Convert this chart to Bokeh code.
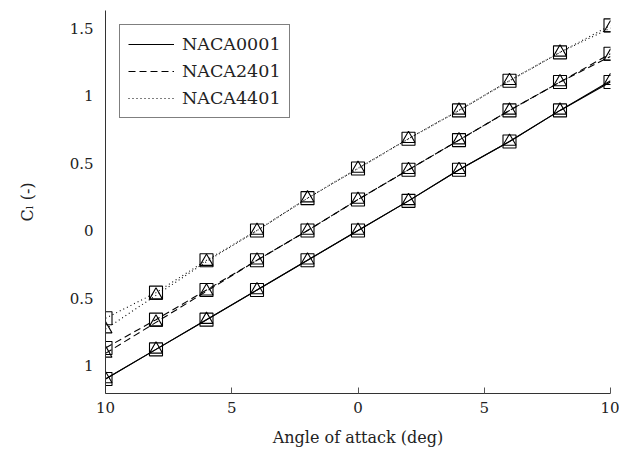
from bokeh.plotting import figure
from bokeh.models import Range1d, FixedTicker, Legend, LegendItem
from bokeh.embed import file_html
from bokeh.resources import INLINE

# Data (angle of attack in deg, lift coefficient)
alpha = [-10, -8, -6, -4, -2, 0, 2, 4, 6, 8, 10]

naca0001_sq = [-1.10, -0.88, -0.66, -0.44, -0.22, 0.00, 0.22, 0.45, 0.66, 0.89, 1.10]
naca0001_tri = [-1.10, -0.88, -0.66, -0.44, -0.22, 0.00, 0.22, 0.45, 0.66, 0.89, 1.11]
naca2401_sq = [-0.87, -0.66, -0.44, -0.22, 0.00, 0.23, 0.45, 0.67, 0.89, 1.10, 1.31]
naca2401_tri = [-0.91, -0.68, -0.45, -0.22, 0.00, 0.23, 0.45, 0.67, 0.89, 1.10, 1.29]
naca4401_sq = [-0.65, -0.46, -0.22, 0.00, 0.24, 0.46, 0.68, 0.89, 1.11, 1.32, 1.52]
naca4401_tri = [-0.73, -0.48, -0.23, 0.00, 0.24, 0.46, 0.68, 0.89, 1.11, 1.32, 1.50]

series_names = ["NACA0001", "NACA2401", "NACA4401"]
series_sq = [naca0001_sq, naca2401_sq, naca4401_sq]
series_tri = [naca0001_tri, naca2401_tri, naca4401_tri]
dashes = ["solid", "7 4", "1 3"]

x_ticks = [-10, -5, 0, 5, 10]
x_tick_labels = ["10", "5", "0", "5", "10"]
y_ticks = [-1, -0.5, 0, 0.5, 1, 1.5]
y_tick_labels = ["1", "0.5", "0", "0.5", "1", "1.5"]

FONT = "DejaVu Serif"

p = figure(width=619, height=453, output_backend="svg", toolbar_location=None,
           x_range=Range1d(-10, 10), y_range=Range1d(-1.207, 1.63),
           min_border_left=105, min_border_right=9, min_border_top=10, min_border_bottom=60)
p.outline_line_color = None
p.grid.grid_line_color = None
p.background_fill_color = "white"
p.border_fill_color = "white"

legend_items = []
for name, ysq, ytri, dash in zip(series_names, series_sq, series_tri, dashes):
    r = p.line(alpha, ysq, line_color="black", line_width=1.1, line_dash=dash)
    p.line(alpha, ytri, line_color="black", line_width=1.1, line_dash=dash)
    p.scatter(alpha, ysq, marker="square", size=13, fill_color=None, line_color="black", line_width=1.1)
    p.scatter(alpha, ytri, marker="triangle", size=13, fill_color=None, line_color="black", line_width=1.1)
    legend_items.append(LegendItem(label=name, renderers=[r]))

legend = Legend(items=legend_items, location="top_left")
legend.margin = 14
legend.border_line_color = "black"
legend.border_line_width = 1
legend.label_text_font = FONT
legend.label_text_font_size = "17.5px"
legend.label_text_color = "#222222"
legend.glyph_width = 46
legend.glyph_height = 22
legend.label_height = 22
legend.spacing = 5
legend.padding = 8
legend.label_standoff = 8
legend.background_fill_alpha = 1
p.add_layout(legend)

xa = p.xaxis[0]
xa.ticker = FixedTicker(ticks=x_ticks)
xa.major_label_overrides = {t: l for t, l in zip(x_ticks, x_tick_labels)}
xa.minor_tick_line_color = None
xa.major_tick_out = 0
xa.major_tick_in = 6
xa.axis_line_color = "#333333"
xa.major_tick_line_color = "#555555"
xa.major_label_text_font = FONT
xa.major_label_text_font_size = "15px"
xa.major_label_text_color = "#222222"
xa.major_label_standoff = 8
xa.axis_label = "Angle of attack (deg)"
xa.axis_label_text_font = FONT
xa.axis_label_text_font_size = "16px"
xa.axis_label_text_font_style = "normal"
xa.axis_label_text_color = "#222222"
xa.axis_label_standoff = 12

ya = p.yaxis[0]
ya.ticker = FixedTicker(ticks=y_ticks)
ya.major_label_overrides = {t: l for t, l in zip(y_ticks, y_tick_labels)}
ya.minor_tick_line_color = None
ya.major_tick_out = 0
ya.major_tick_in = 0
ya.axis_line_color = "#333333"
ya.major_label_text_font = FONT
ya.major_label_text_font_size = "15px"
ya.major_label_text_color = "#222222"
ya.major_label_standoff = 12
ya.axis_label = "Cₗ (-)"
ya.axis_label_text_font = FONT
ya.axis_label_text_font_size = "16px"
ya.axis_label_text_font_style = "normal"
ya.axis_label_text_color = "#222222"
ya.axis_label_standoff = 30

open("out.html", "w").write(file_html(p, INLINE))
